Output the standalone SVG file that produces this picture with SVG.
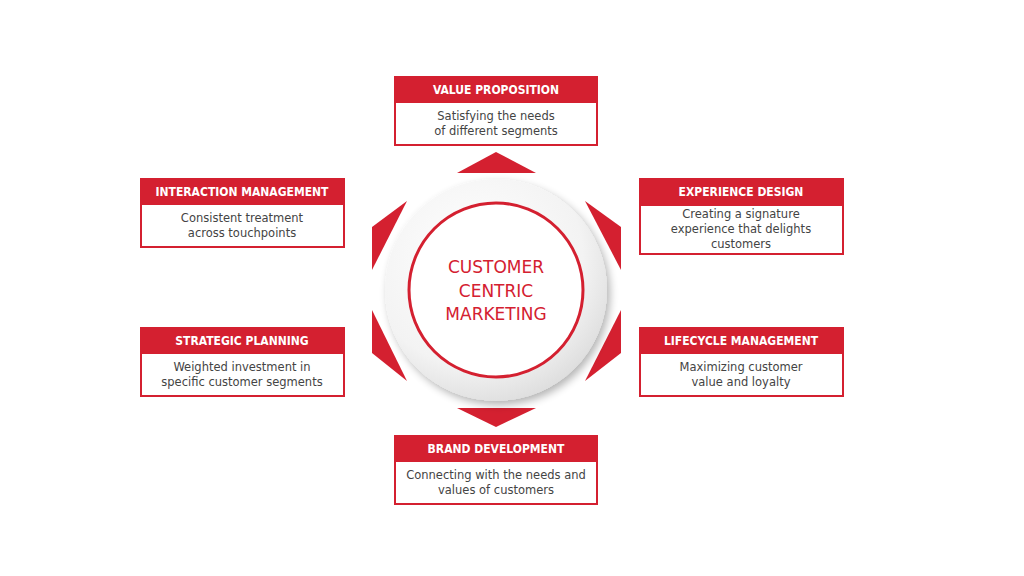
<svg xmlns="http://www.w3.org/2000/svg" width="1024" height="576" viewBox="0 0 1024 576">
<style>
.hdr{fill:#D42030}
.box{fill:#fff;stroke:#D42030;stroke-width:2}
.ht{font-family:"DejaVu Sans Condensed","DejaVu Sans",sans-serif;font-stretch:condensed;font-weight:bold;font-size:12px;fill:#fff;text-anchor:middle}
.bt{font-family:"DejaVu Sans",sans-serif;font-size:11.5px;fill:#444;text-anchor:middle}
.ct{font-family:"DejaVu Sans",sans-serif;font-size:17px;fill:#D42030;text-anchor:middle}
.arr{fill:#D42030}
</style>
<defs>
<radialGradient id="ring" cx="0.4" cy="0.35" r="0.7">
<stop offset="0" stop-color="#ffffff"/>
<stop offset="0.7" stop-color="#f3f3f3"/>
<stop offset="1" stop-color="#dcdcdc"/>
</radialGradient>
<filter id="sh" x="-20%" y="-20%" width="140%" height="140%">
<feGaussianBlur in="SourceAlpha" stdDeviation="4"/>
<feOffset dx="3" dy="4"/>
<feComponentTransfer><feFuncA type="linear" slope="0.3"/></feComponentTransfer>
<feMerge><feMergeNode/><feMergeNode in="SourceGraphic"/></feMerge>
</filter>
</defs>
<rect width="1024" height="576" fill="#fff"/>
<g id="connectors">
<polygon class="arr" points="496,152 536,173 457,173"/>
<polygon class="arr" points="457,408 536,408 496,427"/>
<polygon class="arr" points="407,201 372,227 372,270"/>
<polygon class="arr" points="372,310 372,353 407,381"/>
<polygon class="arr" points="585,201 621,227 621,270"/>
<polygon class="arr" points="621,310 621,353 585,381"/>
</g>
<g id="center">
<circle cx="496" cy="290" r="111" fill="url(#ring)" filter="url(#sh)"/>
<circle cx="496" cy="290" r="87" fill="#fff" stroke="#D42030" stroke-width="3"/>
<text class="ct" x="496" y="273">CUSTOMER</text>
<text class="ct" x="496" y="297">CENTRIC</text>
<text class="ct" x="496" y="320">MARKETING</text>
</g>
<g id="value-proposition">
<rect class="box" x="395" y="77" width="202" height="68"/>
<rect class="hdr" x="394" y="76" width="204" height="27"/>
<text class="ht" x="496" y="94">VALUE PROPOSITION</text>
<text class="bt" x="496" y="120">Satisfying the needs</text>
<text class="bt" x="496" y="135">of different segments</text>
</g>
<g id="interaction-management">
<rect class="box" x="141" y="179" width="203" height="68"/>
<rect class="hdr" x="140" y="178" width="205" height="27"/>
<text class="ht" x="242" y="196">INTERACTION MANAGEMENT</text>
<text class="bt" x="242" y="222">Consistent treatment</text>
<text class="bt" x="242" y="237">across touchpoints</text>
</g>
<g id="experience-design">
<rect class="box" x="640" y="179" width="203" height="75"/>
<rect class="hdr" x="639" y="178" width="205" height="28"/>
<text class="ht" x="741" y="196">EXPERIENCE DESIGN</text>
<text class="bt" x="741" y="218">Creating a signature</text>
<text class="bt" x="741" y="233">experience that delights</text>
<text class="bt" x="741" y="248">customers</text>
</g>
<g id="strategic-planning">
<rect class="box" x="141" y="328" width="203" height="68"/>
<rect class="hdr" x="140" y="327" width="205" height="27"/>
<text class="ht" x="242" y="345">STRATEGIC PLANNING</text>
<text class="bt" x="242" y="371">Weighted investment in</text>
<text class="bt" x="242" y="386">specific customer segments</text>
</g>
<g id="lifecycle-management">
<rect class="box" x="640" y="328" width="203" height="68"/>
<rect class="hdr" x="639" y="327" width="205" height="27"/>
<text class="ht" x="741" y="345">LIFECYCLE MANAGEMENT</text>
<text class="bt" x="741" y="371">Maximizing customer</text>
<text class="bt" x="741" y="386">value and loyalty</text>
</g>
<g id="brand-development">
<rect class="box" x="395" y="436" width="202" height="68"/>
<rect class="hdr" x="394" y="435" width="204" height="27"/>
<text class="ht" x="496" y="453">BRAND DEVELOPMENT</text>
<text class="bt" x="496" y="479">Connecting with the needs and</text>
<text class="bt" x="496" y="494">values of customers</text>
</g>
</svg>
